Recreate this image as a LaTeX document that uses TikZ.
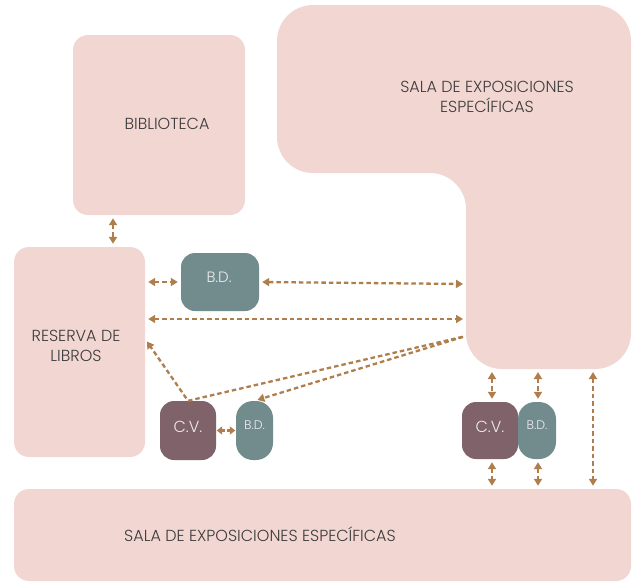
\documentclass[tikz,border=0pt]{standalone}
\usepackage{fontspec}
\setmainfont{Poppins}[UprightFont={* Light}]
\usetikzlibrary{arrows.meta,calc}
\definecolor{roompink}{HTML}{F2D6D2}
\definecolor{bdteal}{HTML}{728C8E}
\definecolor{cvmauve}{HTML}{80626B}
\definecolor{arrbrown}{HTML}{B07E4C}
\definecolor{txtgray}{HTML}{3C3C3C}
\definecolor{boxtxt}{HTML}{ECECEC}
\tikzset{
  room/.style={fill=roompink, draw=none, rounded corners=15pt},
  roomtext/.style={text=txtgray, align=center, font=\fontsize{16}{20}\selectfont},
  smallbox/.style={draw=none, inner sep=0pt},
  bdbox/.style={smallbox, fill=bdteal},
  cvbox/.style={smallbox, fill=cvmauve},
  conn/.style={draw=arrbrown, line width=2.3pt, dash pattern=on 4.5pt off 3pt, shorten <=3pt, shorten >=3pt},
  both/.style={conn, {Triangle[length=7pt,width=8pt]}-{Triangle[length=7pt,width=8pt]}},
  bothshort/.style={conn, shorten <=0.5pt, shorten >=0.5pt, dash pattern=on 3pt off 2pt, {Triangle[length=5.5pt,width=8pt]}-{Triangle[length=5.5pt,width=8pt]}},
  toend/.style={conn, -{Triangle[length=7pt,width=8pt]}},
  plain/.style={conn}
}
\begin{document}
\begin{tikzpicture}[x=1pt,y=-1pt]
\useasboundingbox (0,0) rectangle (632,584);

% L-shaped room
\fill[roompink, rounded corners=36pt] (277,5) -- (631,5) -- (631,369) -- (466,369) -- (466,173) -- (277,173) -- cycle;
\node[roomtext] (sala1) at (487,97) {SALA DE EXPOSICIONES\\ESPECÍFICAS};
\coordinate (Lw1) at (466,284);
\coordinate (Lw2) at (466,319);
\coordinate (Lw3) at (466,336);
\coordinate (Lb1) at (492,369);
\coordinate (Lb2) at (538,369);
\coordinate (Lb3) at (593,369);

% rooms
\node[room, minimum width=172pt, minimum height=180pt] (bib) at (159,125) {};
\node[roomtext] (bibt) at (167,124) {BIBLIOTECA};
\node[room, minimum width=131pt, minimum height=210pt] (res) at (79.5,352) {};
\node[roomtext] (rest) at (76,346) {RESERVA DE\\LIBROS};
\node[room, minimum width=617pt, minimum height=92pt] (bot) at (322.5,535) {};
\node[roomtext] (bott) at (260,534) {SALA DE EXPOSICIONES ESPECÍFICAS};

% small boxes
\node[bdbox, rounded corners=14pt, minimum width=78pt, minimum height=58pt] (bd1) at (220,282) {};
\node[text=boxtxt, font=\fontsize{15}{18}\selectfont] (bd1t) at (219,277) {B.D.};
\node[cvbox, rounded corners=14pt, minimum width=56pt, minimum height=59pt] (cv1) at (188,430.5) {};
\node[text=boxtxt, font=\fontsize{16}{18}\selectfont] (cv1t) at (188,427) {C.V.};
\node[bdbox, rounded corners=17pt, minimum width=37pt, minimum height=59pt] (bd2) at (254.5,430.5) {};
\node[text=boxtxt, font=\fontsize{12.5}{14}\selectfont] (bd2t) at (254.5,425) {B.D.};
\node[cvbox, rounded corners=14pt, minimum width=56pt, minimum height=57pt] (cv2) at (490,430.5) {};
\node[text=boxtxt, font=\fontsize{16}{18}\selectfont] (cv2t) at (490,427) {C.V.};
\node[bdbox, rounded corners=17pt, minimum width=38pt, minimum height=57pt] (bd3) at (537,430.5) {};
\node[text=boxtxt, font=\fontsize{12.5}{14}\selectfont] (bd3t) at (537,425) {B.D.};

% connectors
\draw[both] ([xshift=-46pt]bib.south) -- ([xshift=-46pt]bib.south |- res.north);
\draw[both] (res.east |- bd1.west) -- (bd1.west);
\draw[both] (bd1.east) -- (Lw1);
\draw[both] (Lw2 -| res.east) -- (Lw2);
\draw[toend] (cv1.north) -- ([yshift=13pt]res.east);
\draw[plain, shorten <=0pt] (cv1.north) -- (Lw3);
\draw[toend] (Lw3) -- (bd2.north);
\draw[bothshort] (cv1.east) -- (bd2.west);
\draw[both] (Lb1) -- (Lb1 |- cv2.north);
\draw[both] (Lb2) -- (Lb2 |- bd3.north);
\draw[both] (Lb1 |- cv2.south) -- (Lb1 |- bot.north);
\draw[both] (Lb2 |- bd3.south) -- (Lb2 |- bot.north);
\draw[both] (Lb3) -- (Lb3 |- bot.north);
\end{tikzpicture}
\end{document}
